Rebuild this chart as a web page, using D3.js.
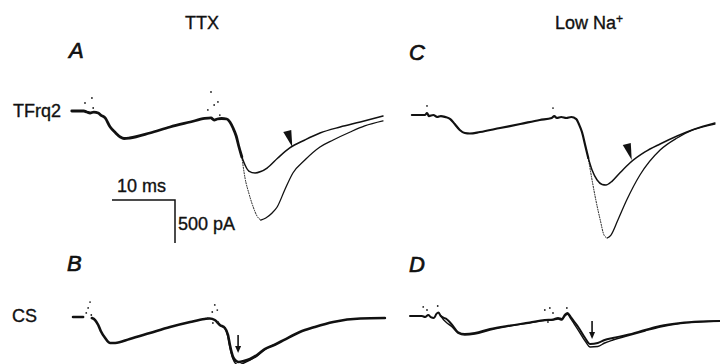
<!DOCTYPE html>
<html>
<head>
<meta charset="utf-8">
<script src="https://cdn.jsdelivr.net/npm/d3@7"></script>
<style>
  html, body { margin: 0; padding: 0; background: #fff; }
  svg text { font-family: "Liberation Sans", Arial, Helvetica, sans-serif; fill: #111; stroke: #111; stroke-width: 0.35px; }
</style>
</head>
<body>
<svg id="fig" width="720" height="364"></svg>
<script>
// Scale bar values
const timeBarMs = 10;
const currentBarPa = 500;

// Traces: [time (ms), current (pA)] relative to first stimulus; null = gap
// A: TFrq2, TTX
const aShared = [[-2.1,0],[-0.2,0],[0.3,-12],[0.8,-23],[1.4,-12],[2.1,-23],[2.5,-47],[3.2,-81],[4.0,-186],[4.8,-250],[5.6,-302],[6.2,-320],[7.1,-314],[10.3,-256],[13.5,-186],[16.7,-128],[19.0,-87],[20.0,-81],[20.5,-105],[21.0,-93],[21.7,-87],[22.5,-93],[23.0,-128],[23.5,-198],[24.0,-291],[24.4,-407],[24.9,-535]];
const aUpper = [[24.9,-535],[25.4,-628],[26.0,-698],[27.0,-721],[27.9,-704],[28.9,-663],[30.6,-547],[32.5,-430],[34.9,-337],[37.3,-256],[40.5,-186],[43.7,-128],[47.3,-58]];
const aLower = [[24.9,-535],[25.4,-779],[26.0,-954],[26.7,-1116],[27.3,-1221],[27.9,-1268],[28.7,-1244],[29.7,-1186],[30.5,-1116],[31.7,-919],[33.0,-721],[34.9,-570],[37.3,-419],[39.4,-337],[42.1,-244],[44.4,-174],[47.3,-116]];
const aArtifacts = [[0,93],[1.1,151],[1.3,35],[20,221],[20.5,70],[21.1,105],[19.5,12],[21.4,-47]];
const aMarker = [32.9, -419];

// B: CS, TTX
const bTrace1 = [[-1.9,0],[-0.3,0],null,[1.1,-12],[1.6,-35],[2.1,-93],[2.5,-163],[3.2,-244],[4.0,-302],[4.8,-302],[7.1,-256],[10.3,-186],[13.5,-116],[16.7,-58],[19.0,-23],[19.8,-17],[20.6,-35],[21.4,-93],[22.2,-128],[22.7,-209],[23.0,-326],[23.5,-465],[24.0,-512],[24.4,-523],[25.2,-512],[26.2,-488],[27.3,-442],[28.6,-370],[30.2,-320],[31.7,-262],[34.1,-174],[36.5,-116],[39.4,-58],[43.7,-17],[47.6,-12]];
const bTrace2 = [[22.2,-128],[22.7,-230],[23.0,-349],[23.5,-488],[24.0,-547],[24.4,-558],[25.2,-535],[26.2,-500],[27.3,-454],[28.6,-375],[30.2,-320]];
const bArtifacts = [[0.8,174],[0.5,105],[0.2,47],[1.0,23],[20.6,140],[20.2,58],[21.0,81],[19.5,-12],[21.1,-58],[20.3,-70]];
const bArrow = [24.3, -419];

// C: TFrq2, low Na+
const cShared = [[-2.4,0],[-0.3,0],[0,23],[0.3,-12],[1.0,0],[1.6,-23],[2.2,-12],[2.9,-23],[3.7,-47],[4.4,-105],[5.2,-174],[6.0,-209],[6.8,-215],[8.4,-198],[11.6,-151],[14.8,-105],[17.9,-58],[19.8,-35],[20.2,-12],[20.6,-35],[21.3,-23],[22.1,-35],[22.9,-23],[23.7,-47],[24.1,-105],[24.6,-198],[25.1,-349],[25.6,-500]];
const cUpper = [[25.6,-500],[26.2,-640],[27.0,-756],[27.8,-808],[28.4,-814],[29.4,-768],[30.6,-675],[32.2,-558],[34.6,-430],[37.0,-337],[39.7,-244],[42.5,-163],[45.7,-93]];
const cLower = [[25.6,-500],[26.2,-756],[26.8,-989],[27.5,-1221],[28.1,-1396],[28.6,-1430],[29.2,-1396],[30.3,-1221],[31.7,-989],[33.8,-698],[37.0,-407],[39.7,-267],[42.2,-174],[45.7,-105]];
const cArtifacts = [[0,105],[20,81]];
const cMarker = [32.5, -523];

// D: CS, low Na+
const dTrace1 = [[-2.7,0],[-0.8,0],[-0.3,-12],[0.2,12],[0.6,-12],[1.1,-23],[1.5,25],[1.8,40],[2.2,0],[2.6,-20],[3.0,-30],[4.0,-105],[4.9,-186],[6.0,-209],[7.6,-198],[10.0,-151],[13.2,-110],[16.3,-76],[18.7,-47],[20.0,-41],[20.8,-23],[21.4,-35],[21.9,15],[22.3,35],[22.8,-10],[23.3,-60],[24.0,-128],[25.1,-256],[25.9,-326],[27.1,-314],[28.2,-279],[29.5,-256],[31.7,-221],[34.6,-163],[37.0,-116],[40.2,-81],[43.3,-64],[46.5,-58]];
const dTrace2 = [[2.2,0],[2.6,-40],[3.0,-70],[4.0,-128],[4.9,-198],[6.0,-221],[7.6,-209],[10.0,-163],[13.2,-116],[16.3,-81],[18.7,-52],[20.0,-47],[20.8,-35],[21.4,-47],[21.9,0],[22.3,20],[22.8,-30],[23.3,-85],[24.0,-163],[25.1,-291],[25.9,-360],[27.1,-355],[28.2,-314],[29.5,-279],[31.7,-233],[34.6,-174],[37.0,-128],[40.2,-87],[43.3,-70],[46.5,-58]];
const dArtifacts = [[-0.6,105],[0,70],[1.7,116],[18.7,70],[19.5,93],[20.0,35],[22.2,93],[19.2,-70]];
const dArrow = [26.2, -267];

// layout
const pxPerMs = 6.3, pxPerPa = 0.086;
const svg = d3.select("#fig");

function makeScales(x0, y0) {
  return {
    x: d3.scaleLinear().domain([0, timeBarMs]).range([x0, x0 + timeBarMs * pxPerMs]),
    y: d3.scaleLinear().domain([0, -currentBarPa]).range([y0, y0 + currentBarPa * pxPerPa])
  };
}

function drawTrace(s, data, width, dash) {
  const line = d3.line()
    .defined(d => d != null)
    .x(d => s.x(d[0]))
    .y(d => s.y(d[1]))
    .curve(d3.curveMonotoneX);
  svg.append("path")
    .attr("d", line(data))
    .attr("fill", "none")
    .attr("stroke", "#111")
    .attr("stroke-width", width)
    .attr("stroke-linejoin", "round")
    .attr("stroke-linecap", "round")
    .attr("stroke-dasharray", dash || null);
}

// big response: fast falling phase is dotted
function drawLower(s, data) {
  const i = d3.minIndex(data, d => d[1]);
  drawTrace(s, data.slice(0, i + 1), 1, "1,1.6");
  drawTrace(s, data.slice(i), 1.3);
}

function drawArtifacts(s, data) {
  svg.append("g").selectAll("circle")
    .data(data)
    .enter().append("circle")
    .attr("cx", d => s.x(d[0]))
    .attr("cy", d => s.y(d[1]))
    .attr("r", 0.9)
    .attr("fill", "#222");
}

function drawArrowhead(s, m) {
  const tx = s.x(m[0]), ty = s.y(m[1]);
  svg.append("path")
    .attr("d", `M${tx - 9},${ty - 15} L${tx - 1},${ty - 17} L${tx},${ty} Z`)
    .attr("fill", "#111");
}

function drawDownArrow(s, m) {
  const tx = s.x(m[0]), ty = s.y(m[1]);
  svg.append("line")
    .attr("x1", tx).attr("x2", tx)
    .attr("y1", ty - 18).attr("y2", ty - 5)
    .attr("stroke", "#111").attr("stroke-width", 1.6);
  svg.append("path")
    .attr("d", `M${tx - 3},${ty - 7} L${tx + 3},${ty - 7} L${tx},${ty} Z`)
    .attr("fill", "#111");
}

// Panel A
const sA = makeScales(85, 111);
drawTrace(sA, aShared, 2.8);
drawTrace(sA, aUpper, 1.5);
drawLower(sA, aLower);
drawArtifacts(sA, aArtifacts);
drawArrowhead(sA, aMarker);

// Panel B
const sB = makeScales(85, 317);
drawTrace(sB, bTrace1, 2.6);
drawTrace(sB, bTrace2, 1.5);
drawArtifacts(sB, bArtifacts);
drawDownArrow(sB, bArrow);

// Panel C
const sC = makeScales(427, 115);
drawTrace(sC, cShared, 2.2);
drawTrace(sC, cUpper, 1.5);
drawLower(sC, cLower);
drawArtifacts(sC, cArtifacts);
drawArrowhead(sC, cMarker);

// Panel D
const sD = makeScales(427, 316);
drawTrace(sD, dTrace1, 2);
drawTrace(sD, dTrace2, 1.4);
drawArtifacts(sD, dArtifacts);
drawDownArrow(sD, dArrow);

// Scale bar (sized from panel A's scales)
const barX = 112, barY = 200;
const barW = sA.x(timeBarMs) - sA.x(0);
const barH = sA.y(-currentBarPa) - sA.y(0);
svg.append("path")
  .attr("d", `M${barX},${barY} H${barX + barW} V${barY + barH}`)
  .attr("fill", "none")
  .attr("stroke", "#111")
  .attr("stroke-width", 1.5);
svg.append("text").attr("x", barX + 5).attr("y", barY - 8)
  .style("font-size", "18px").text(timeBarMs + " ms");
svg.append("text").attr("x", barX + barW + 3).attr("y", barY + 30)
  .style("font-size", "18px").text(currentBarPa + " pA");

// Column titles
svg.append("text").attr("x", 202).attr("y", 29).attr("text-anchor", "middle")
  .style("font-size", "18px").text("TTX");
const na = svg.append("text").attr("x", 555).attr("y", 29).style("font-size", "18px");
na.append("tspan").text("Low Na");
na.append("tspan").attr("dy", -6).style("font-size", "12px").text("+");

// Row labels
svg.append("text").attr("x", 13).attr("y", 117).style("font-size", "18px").text("TFrq2");
svg.append("text").attr("x", 12).attr("y", 322).style("font-size", "18px").text("CS");

// Panel letters
[["A", 69, 58], ["C", 409, 60], ["B", 67, 271], ["D", 409, 272]].forEach(([t, x, y]) => {
  svg.append("text").attr("x", x).attr("y", y)
    .style("font-size", "22px").style("font-style", "italic")
    .style("stroke-width", "0.7px")
    .text(t);
});
</script>
</body>
</html>
